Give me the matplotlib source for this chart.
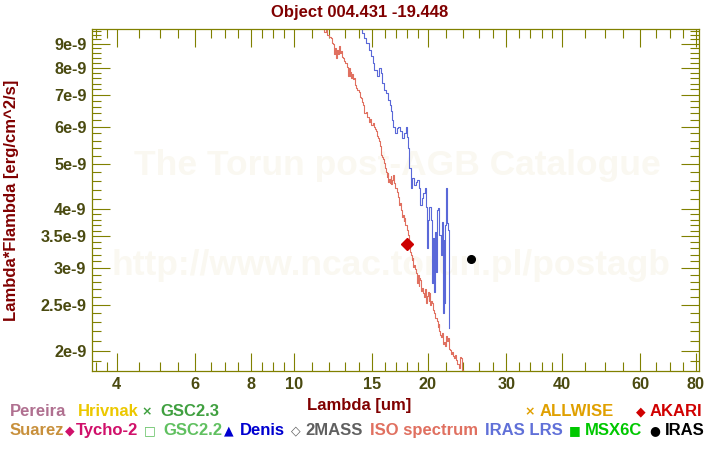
import matplotlib

matplotlib.use("Agg")
import matplotlib.pyplot as plt
from matplotlib.ticker import NullFormatter

# ---- data (flux in units of 1e-9 erg/cm^2/s) ----
iso_lam = [
    11.40, 11.68, 11.75, 11.82, 11.94, 12.05, 12.15, 12.25, 12.30, 12.36,
    12.40, 12.44, 12.50, 12.57, 12.63, 12.70, 12.80, 12.86, 12.91, 13.00,
    13.09, 13.17, 13.24, 13.28, 13.33, 13.36, 13.42, 13.48, 13.55, 13.62,
    13.71, 13.77, 13.83, 13.95, 14.07, 14.13, 14.19, 14.25, 14.31, 14.37,
    14.44, 14.55, 14.60, 14.69, 14.75, 14.82, 14.90, 14.98, 15.07, 15.15,
    15.25, 15.34, 15.40, 15.47, 15.55, 15.62, 15.70, 15.74, 15.82, 15.90,
    16.02, 16.10, 16.16, 16.22, 16.28, 16.33, 16.38, 16.45, 16.52, 16.58,
    16.65, 16.72, 16.80, 16.87, 16.95, 17.07, 17.15, 17.25, 17.32, 17.40,
    17.46, 17.52, 17.61, 17.68, 17.76, 17.85, 17.97, 18.05, 18.13, 18.20,
    18.29, 18.36, 18.44, 18.52, 18.60, 18.70, 18.78, 18.87, 18.95, 19.02,
    19.09, 19.18, 19.26, 19.35, 19.45, 19.52, 19.62, 19.72, 19.80, 19.87,
    19.95, 20.05, 20.12, 20.21, 20.30, 20.40, 20.50, 20.58, 20.66, 20.74,
    20.85, 20.99, 21.10, 21.20, 21.28, 21.38, 21.47, 21.58, 21.70, 21.84,
    21.95, 22.05, 22.12, 22.22, 22.35, 22.49, 22.60, 22.75, 22.88, 23.00,
    23.10, 23.20, 23.35, 23.52, 23.60, 23.70, 23.82, 23.90, 24.01, 24.10,
]
iso_flux = [
    10.2, 9.67, 9.55, 9.62, 9.40, 9.32, 9.25, 9.05, 8.98, 8.55,
    8.80, 8.40, 8.75, 8.55, 8.90, 8.62, 8.67, 8.45, 8.39, 8.28,
    8.19, 8.02, 7.92, 7.70, 7.98, 7.67, 7.85, 7.62, 7.78, 7.58,
    7.61, 7.35, 7.24, 7.18, 7.12, 6.95, 6.90, 6.78, 6.67, 6.55,
    6.41, 6.45, 6.28, 6.30, 6.18, 6.15, 6.22, 6.05, 6.10, 5.98,
    5.92, 5.86, 5.72, 5.67, 5.58, 5.45, 5.35, 5.22, 5.18, 5.12,
    5.02, 4.90, 4.81, 4.68, 4.78, 4.58, 4.65, 4.55, 4.70, 4.52,
    4.62, 4.74, 4.55, 4.51, 4.45, 4.36, 4.25, 4.09, 4.12, 3.98,
    3.99, 3.85, 3.89, 3.78, 3.83, 3.70, 3.62, 3.55, 3.53, 3.40,
    3.25, 3.20, 3.12, 3.15, 3.02, 3.05, 2.98, 2.93, 2.78, 2.90,
    2.74, 2.85, 2.83, 2.68, 2.72, 2.65, 2.60, 2.70, 2.55, 2.53,
    2.62, 2.66, 2.55, 2.65, 2.50, 2.55, 2.53, 2.44, 2.40, 2.41,
    2.35, 2.31, 2.25, 2.28, 2.20, 2.16, 2.14, 2.18, 2.07, 2.09,
    2.05, 2.15, 2.10, 2.13, 2.02, 2.01, 1.97, 1.99, 1.95, 1.93,
    1.96, 1.91, 1.87, 1.84, 1.90, 1.94, 1.93, 1.82, 1.81, 1.76,
]

lrs_lam = [
    14.10, 14.19, 14.31, 14.44, 14.61, 14.82, 14.99, 15.07, 15.21, 15.47,
    15.66, 15.74, 15.87, 16.02, 16.16, 16.38, 16.50, 16.58, 16.67, 16.78,
    16.96, 17.07, 17.25, 17.37, 17.55, 17.76, 17.92, 18.01, 18.07, 18.23,
    18.39, 18.54, 18.70, 18.87, 19.02, 19.19, 19.29, 19.46, 19.62, 19.80,
    19.90, 19.97, 20.05, 20.21, 20.39, 20.50, 20.58, 20.74, 20.83, 20.92,
    21.01, 21.17, 21.28, 21.47, 21.56, 21.65, 21.75, 21.84, 21.95, 22.03,
    22.15, 22.24, 22.33,
]
lrs_flux = [
    10.0, 9.67, 9.48, 9.28, 9.03, 8.74, 8.46, 8.19, 7.92, 7.67,
    7.99, 7.80, 7.42, 7.18, 7.07, 6.84, 6.67, 6.46, 6.20, 6.00,
    5.81, 5.95, 6.00, 5.86, 5.67, 5.81, 6.00, 5.71, 5.40, 4.89,
    4.44, 4.66, 4.51, 4.58, 4.62, 4.44, 4.09, 4.23, 4.33, 4.44,
    4.05, 3.31, 3.80, 4.05, 3.80, 2.79, 3.48, 2.67, 3.58, 2.94,
    3.99, 4.03, 3.53, 3.20, 3.76, 2.41, 3.44, 2.53, 3.71, 4.44,
    3.74, 3.62, 2.24,
]

akari_lam = [18.0]
akari_flux = [3.38]
iras_lam = [25.0]
iras_flux = [3.14]

x_major = [4, 6, 8, 10, 15, 20, 30, 40, 60, 80]
x_minor = [3.6, 3.8, 4.5, 5, 5.5, 6.5, 7, 7.5, 8.5, 9, 9.5, 11, 12, 13, 14,
           16, 17, 18, 19, 22, 24, 26, 28, 32, 34, 36, 38, 45, 50, 55, 65, 70, 75]
y_major = [2, 2.5, 3, 3.5, 4, 5, 6, 7, 8, 9]
y_major_labels = ["2e-9", "2.5e-9", "3e-9", "3.5e-9", "4e-9",
                  "5e-9", "6e-9", "7e-9", "8e-9", "9e-9"]
y_minor = [1.9, 2.1, 2.2, 2.3, 2.4, 2.6, 2.7, 2.8, 2.9, 3.1, 3.2, 3.3, 3.4,
           3.6, 3.7, 3.8, 3.9, 4.2, 4.4, 4.6, 4.8, 5.2, 5.4, 5.6, 5.8,
           6.2, 6.4, 6.6, 6.8, 7.2, 7.4, 7.6, 7.8, 8.2, 8.4, 8.6, 8.8,
           9.2, 9.4, 9.6]

legend_row1 = [("", "Pereira", "#b07090"), ("", "Hrivnak", "#ecc800"),
               ("\u00d7", "GSC2.3", "#40a040"), ("\u00d7", "ALLWISE", "#e0a000"),
               ("\u25c6", "AKARI", "#d00000")]
legend_row2 = [("", "Suarez", "#c8903c"), ("\u25c6", "Tycho-2", "#d0106a"),
               ("\u25a1", "GSC2.2", "#60c060"), ("\u25b2", "Denis", "#0000d0"),
               ("\u25c7", "2MASS", "#606060"), ("", "ISO spectrum", "#e07060"),
               ("", "IRAS LRS", "#6070d8"), ("\u25a0", "MSX6C", "#00c800"),
               ("\u25cf", "IRAS", "#000000")]
# pixel positions (marker x, text x) for each legend entry
row1_pos = [(None, 10), (None, 78), (147, 160), (530, 540), (641, 650)]
row2_pos = [(None, 10), (70, 76), (150, 163), (229, 240), (296, 305),
            (None, 370), (None, 485), (575, 585), (655, 665)]

W, H = 720, 450
plt.rcParams["font.family"] = ["Liberation Sans", "DejaVu Sans"]
plt.rcParams["font.weight"] = "bold"

OLIVE = "#808000"
TICKTXT = "#4a4a10"
DARKRED = "#800000"
FS = 12


def fx(px):
    return px / W


def fy(py):
    return 1 - py / H


fig = plt.figure(figsize=(W / 100, H / 100), dpi=100)
ax = fig.add_axes([fx(92), fy(371), (699 - 92) / W, (371 - 29) / H])
ax.set_xscale("log")
ax.set_yscale("log")

# watermarks
wm = "#faf8f1"
ax.text(fx(397), fy(175), "The Torun post-AGB Catalogue", transform=fig.transFigure,
        ha="center", va="baseline", fontsize=25.5, color=wm, zorder=0)
ax.text(fx(391), fy(275), "http://www.ncac.torun.pl/postagb", transform=fig.transFigure,
        ha="center", va="baseline", fontsize=25.5, color=wm, zorder=0)

sc = 1e-9
ax.plot(iso_lam, [v * sc for v in iso_flux], color="#e07060", lw=0.8,
        drawstyle="steps-mid", zorder=2)
ax.plot(lrs_lam, [v * sc for v in lrs_flux], color="#5a68d8", lw=0.8,
        drawstyle="steps-mid", zorder=2)
ax.plot(akari_lam, [v * sc for v in akari_flux], "D", color="#cc0000", ms=6, zorder=3)
ax.plot(iras_lam, [v * sc for v in iras_flux], "o", color="black", ms=5.5, zorder=3)

ax.set_xlim(3.52, 81.3)
ax.set_ylim(1.81e-9, 9.68e-9)

ax.set_xticks(x_major, [str(v) for v in x_major])
ax.set_xticks(x_minor, minor=True)
ax.set_yticks([v * sc for v in y_major], y_major_labels)
ax.set_yticks([v * sc for v in y_minor], minor=True)
ax.xaxis.set_minor_formatter(NullFormatter())
ax.yaxis.set_minor_formatter(NullFormatter())

ax.tick_params(which="both", direction="in", top=True, right=True,
               color=OLIVE, width=0.8, labelsize=11.7, labelcolor=TICKTXT, pad=4)
ax.tick_params(which="major", length=13)
ax.tick_params(which="minor", length=6.5)
for sp in ax.spines.values():
    sp.set_color(OLIVE)
    sp.set_linewidth(0.9)

fig.text(fx(360), fy(17.5), "Object 004.431 -19.448", ha="center", va="baseline",
         color=DARKRED, fontsize=FS)
fig.text(fx(359), fy(410), "Lambda [um]", ha="center", va="baseline",
         color=DARKRED, fontsize=FS)
fig.text(fx(12), fy(200), "Lambda*Flambda [erg/cm^2/s]", ha="center", va="center",
         rotation=90, color=DARKRED, fontsize=FS)

for row, pos, base in ((legend_row1, row1_pos, 416), (legend_row2, row2_pos, 435)):
    for (mark, label, col), (mx, tx) in zip(row, pos):
        if mark:
            fig.text(fx(mx), fy(base - 1), mark, ha="center", va="baseline",
                     color=col, fontsize=9, family="DejaVu Sans")
        fig.text(fx(tx), fy(base), label, ha="left", va="baseline",
                 color=col, fontsize=FS)

fig.savefig("out.png", dpi=100)
